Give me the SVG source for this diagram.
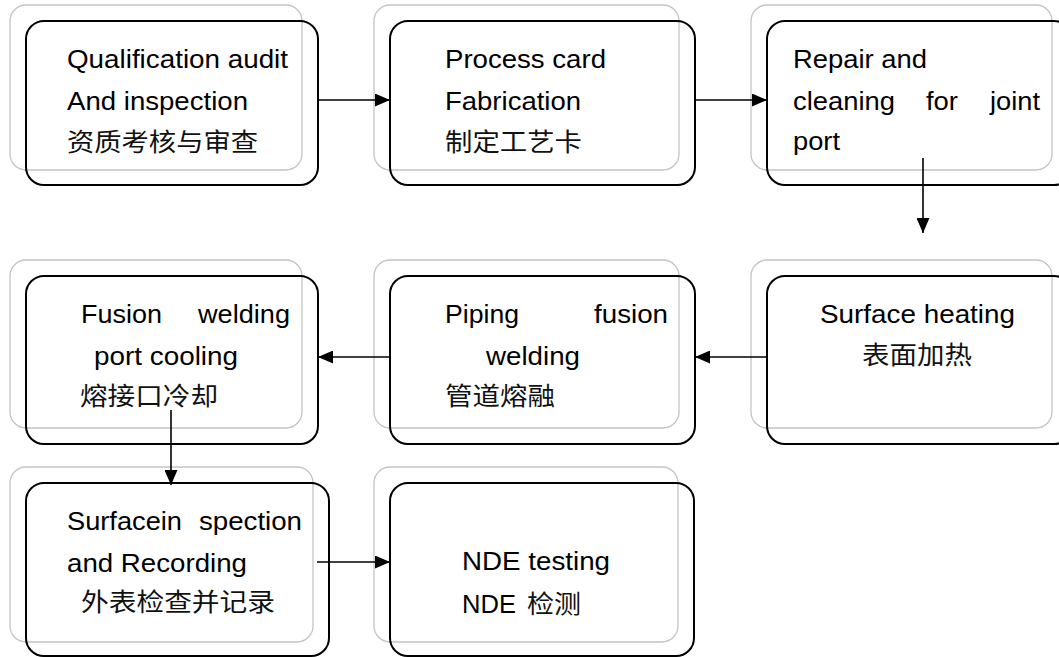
<svg xmlns="http://www.w3.org/2000/svg" width="1059" height="657" viewBox="0 0 1059 657">
<style>
.bg{fill:none;stroke:#c4c4c4;stroke-width:1.3}
.bx{fill:none;stroke:#000;stroke-width:2}
.en{font-family:"Liberation Sans",Arial,sans-serif;font-size:25px;fill:#000}
.zh{font-family:"Noto Sans CJK SC","Noto Sans CJK TC",sans-serif;font-size:25px;fill:#111}
.ln{stroke:#000;stroke-width:1.6;fill:none}
</style>
<defs>
<marker id="ah" markerWidth="15" markerHeight="13" refX="15" refY="6.5" orient="auto" markerUnits="userSpaceOnUse">
<path d="M0,0 L15,6.5 L0,13 Z" fill="#000"/>
</marker>
</defs>
<rect width="1059" height="657" fill="#fff"/>

<g id="n1">
<rect class="bg" x="10" y="5" width="292" height="165" rx="16"/>
<rect class="bx" x="26" y="21" width="292" height="164" rx="18"/>
<text class="en" x="67" y="68" textLength="221" lengthAdjust="spacingAndGlyphs">Qualification audit</text>
<text class="en" x="67" y="110" textLength="181" lengthAdjust="spacingAndGlyphs">And inspection</text>
<text class="zh" x="67" y="151" textLength="191" lengthAdjust="spacingAndGlyphs">资质考核与审查</text>
</g>

<g id="n2">
<rect class="bg" x="374" y="5" width="305" height="165" rx="16"/>
<rect class="bx" x="390" y="21" width="305" height="164" rx="18"/>
<text class="en" x="445" y="68" textLength="161" lengthAdjust="spacingAndGlyphs">Process card</text>
<text class="en" x="445" y="110" textLength="136" lengthAdjust="spacingAndGlyphs">Fabrication</text>
<text class="zh" x="445" y="151" textLength="137" lengthAdjust="spacingAndGlyphs">制定工艺卡</text>
</g>

<g id="n3">
<rect class="bg" x="751" y="5" width="301" height="165" rx="16"/>
<rect class="bx" x="767" y="21" width="305" height="164" rx="18"/>
<text class="en" x="793" y="68" textLength="134" lengthAdjust="spacingAndGlyphs">Repair and</text>
<text class="en" y="110"><tspan x="793" textLength="102" lengthAdjust="spacingAndGlyphs">cleaning</tspan> <tspan x="926" textLength="32" lengthAdjust="spacingAndGlyphs">for</tspan> <tspan x="990" textLength="50" lengthAdjust="spacingAndGlyphs">joint</tspan></text>
<text class="en" x="793" y="150" textLength="47" lengthAdjust="spacingAndGlyphs">port</text>
</g>

<g id="n4">
<rect class="bg" x="751" y="260" width="301" height="168" rx="16"/>
<rect class="bx" x="767" y="276" width="305" height="168" rx="18"/>
<text class="en" x="820" y="323" textLength="195" lengthAdjust="spacingAndGlyphs">Surface heating</text>
<text class="zh" x="862" y="364" textLength="110" lengthAdjust="spacingAndGlyphs">表面加热</text>
</g>

<g id="n5">
<rect class="bg" x="374" y="260" width="305" height="168" rx="16"/>
<rect class="bx" x="390" y="276" width="305" height="168" rx="18"/>
<text class="en" y="323"><tspan x="445" textLength="74" lengthAdjust="spacingAndGlyphs">Piping</tspan> <tspan x="594" textLength="74" lengthAdjust="spacingAndGlyphs">fusion</tspan></text>
<text class="en" x="486" y="365" textLength="94" lengthAdjust="spacingAndGlyphs">welding</text>
<text class="zh" x="445" y="405" textLength="110" lengthAdjust="spacingAndGlyphs">管道熔融</text>
</g>

<g id="n6">
<rect class="bg" x="10" y="260" width="292" height="168" rx="16"/>
<rect class="bx" x="26" y="276" width="292" height="168" rx="18"/>
<text class="en" y="323"><tspan x="81" textLength="81" lengthAdjust="spacingAndGlyphs">Fusion</tspan> <tspan x="198" textLength="92" lengthAdjust="spacingAndGlyphs">welding</tspan></text>
<text class="en" x="94" y="365" textLength="144" lengthAdjust="spacingAndGlyphs">port cooling</text>
<text class="zh" x="80" y="405" textLength="138" lengthAdjust="spacingAndGlyphs">熔接口冷却</text>
</g>

<g id="n7">
<rect class="bg" x="10" y="467" width="303" height="175" rx="16"/>
<rect class="bx" x="26" y="483" width="303" height="173" rx="18"/>
<text class="en" y="530"><tspan x="67" textLength="115" lengthAdjust="spacingAndGlyphs">Surfacein</tspan> <tspan x="199" textLength="103" lengthAdjust="spacingAndGlyphs">spection</tspan></text>
<text class="en" x="67" y="572" textLength="180" lengthAdjust="spacingAndGlyphs">and Recording</text>
<text class="zh" x="81" y="611" textLength="194" lengthAdjust="spacingAndGlyphs">外表检查并记录</text>
</g>

<g id="n8">
<rect class="bg" x="374" y="467" width="304" height="175" rx="16"/>
<rect class="bx" x="390" y="483" width="304" height="173" rx="18"/>
<text class="en" x="462" y="570" textLength="148" lengthAdjust="spacingAndGlyphs">NDE testing</text>
<text y="613"><tspan class="en" x="462" textLength="54" lengthAdjust="spacingAndGlyphs">NDE</tspan> <tspan class="zh" x="527" textLength="54" lengthAdjust="spacingAndGlyphs">检测</tspan></text>
</g>

<g id="connectors">
<line class="ln" x1="318" y1="100" x2="390" y2="100" marker-end="url(#ah)"/>
<line class="ln" x1="695" y1="100" x2="767" y2="100" marker-end="url(#ah)"/>
<line class="ln" x1="923" y1="158" x2="923" y2="233" marker-end="url(#ah)"/>
<line class="ln" x1="767" y1="357" x2="695" y2="357" marker-end="url(#ah)"/>
<line class="ln" x1="390" y1="357" x2="318" y2="357" marker-end="url(#ah)"/>
<line class="ln" x1="171" y1="410" x2="171" y2="485" marker-end="url(#ah)"/>
<line class="ln" x1="317" y1="562" x2="390" y2="562" marker-end="url(#ah)"/>
</g>
</svg>
